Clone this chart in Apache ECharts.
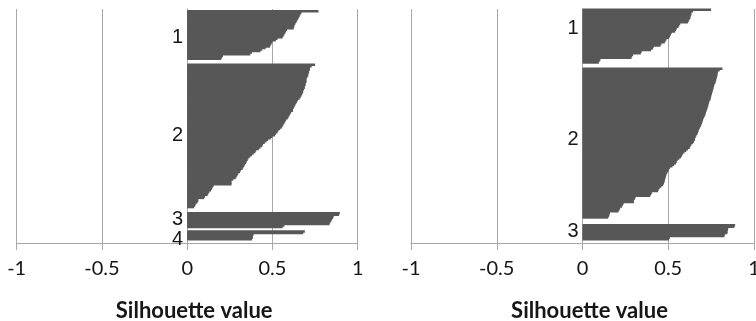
<!DOCTYPE html>
<html>
<head>
<meta charset="utf-8">
<script src="https://cdn.jsdelivr.net/npm/echarts@6/dist/echarts.min.js"></script>
<style>
  html, body { margin: 0; padding: 0; background: #fff; }
  #chart { width: 756px; height: 321px; }
</style>
</head>
<body>
<div id="chart"></div>
<script>
// Silhouette widths per observation, sorted high to low inside each cluster.

// k = 4 solution
const k4Cluster1 = [0.77, 0.67, 0.665, 0.66, 0.655, 0.65, 0.645, 0.64, 0.635, 0.63,
  0.628, 0.625, 0.585, 0.58, 0.575, 0.57, 0.565, 0.56, 0.53, 0.52,
  0.50, 0.495, 0.49, 0.485, 0.46, 0.44, 0.43, 0.38, 0.37, 0.21,
  0.205, 0.20];
const k4Cluster2 = [0.75, 0.73, 0.72, 0.72, 0.715, 0.715, 0.71, 0.71, 0.705, 0.70,
  0.70, 0.70, 0.695, 0.695, 0.69, 0.69, 0.685, 0.68, 0.68, 0.675,
  0.67, 0.665, 0.66, 0.65, 0.645, 0.64, 0.635, 0.63, 0.625, 0.62,
  0.62, 0.61, 0.605, 0.60, 0.595, 0.59, 0.58, 0.575, 0.57, 0.565,
  0.56, 0.555, 0.545, 0.535, 0.53, 0.52, 0.515, 0.50, 0.49, 0.475,
  0.465, 0.455, 0.445, 0.44, 0.43, 0.42, 0.405, 0.40, 0.39, 0.38,
  0.37, 0.36, 0.355, 0.35, 0.345, 0.34, 0.335, 0.33, 0.325, 0.315,
  0.31, 0.30, 0.295, 0.29, 0.285, 0.27, 0.26, 0.26, 0.26, 0.155,
  0.15, 0.145, 0.14, 0.13, 0.125, 0.12, 0.105, 0.10, 0.065, 0.065,
  0.06, 0.05, 0.047, 0.04];
const k4Cluster3 = [0.895, 0.89, 0.86, 0.855, 0.85, 0.845, 0.84, 0.835, 0.57, 0.56];
const k4Cluster4 = [0.69, 0.68, 0.39, 0.385, 0.385, 0.38];
const k4Labels = ['1', '2', '3', '4'];

// k = 3 solution
const k3Cluster1 = [0.75, 0.645, 0.635, 0.635, 0.63, 0.63, 0.625, 0.62, 0.615, 0.57,
  0.565, 0.56, 0.55, 0.545, 0.54, 0.52, 0.515, 0.51, 0.505, 0.49,
  0.485, 0.48, 0.46, 0.455, 0.415, 0.41, 0.40, 0.345, 0.34, 0.295,
  0.29, 0.285, 0.105, 0.10, 0.095];
const k3Cluster2 = [0.816, 0.80, 0.79, 0.788, 0.787, 0.785, 0.782, 0.78, 0.778, 0.775,
  0.77, 0.767, 0.765, 0.763, 0.76, 0.757, 0.755, 0.752, 0.75, 0.748,
  0.745, 0.74, 0.737, 0.735, 0.733, 0.73, 0.727, 0.724, 0.72, 0.718,
  0.715, 0.71, 0.706, 0.703, 0.70, 0.697, 0.693, 0.69, 0.685, 0.68,
  0.677, 0.674, 0.67, 0.665, 0.66, 0.657, 0.655, 0.65, 0.645, 0.635,
  0.63, 0.625, 0.615, 0.605, 0.595, 0.585, 0.58, 0.575, 0.565, 0.555,
  0.55, 0.545, 0.535, 0.525, 0.51, 0.505, 0.50, 0.495, 0.49, 0.488,
  0.485, 0.482, 0.48, 0.478, 0.475, 0.47, 0.46, 0.45, 0.445, 0.44,
  0.405, 0.40, 0.395, 0.31, 0.305, 0.30, 0.30, 0.24, 0.235, 0.23,
  0.22, 0.215, 0.21, 0.16, 0.158, 0.155, 0.15];
const k3Cluster3 = [0.89, 0.885, 0.85, 0.848, 0.846, 0.845, 0.83, 0.828, 0.51, 0.505];
const k3Labels = ['1', '2', '3'];

const xMin = -1, xMax = 1, xStep = 0.5;
const axisTitle = 'Silhouette value';

// ---- layout & style ----
const GRAY = '#a8a8a8';
const BAR = '#575757';
const TEXT = '#161616';
const GRID_TOP = 9, GRID_H = 234;

const panels = [
  { left: 16.7, width: 341, clusters: [k4Cluster1, k4Cluster2, k4Cluster3, k4Cluster4],
    labels: k4Labels, padTop: 1, gaps: [3, 3, 2], padBottom: 2, labelShift: [1, -1, -1, 2] },
  { left: 411, width: 343, clusters: [k3Cluster1, k3Cluster2, k3Cluster3],
    labels: k3Labels, padTop: 0, gaps: [3, 4], padBottom: 2, labelShift: [-5, -2, -1] }
];

// Lay clusters out as consecutive rows of a category axis, with empty rows between them.
function buildRows(p) {
  const values = [];
  const labelAt = {};
  for (let i = 0; i < p.padTop; i++) values.push(null);
  p.clusters.forEach((c, ci) => {
    if (ci > 0) for (let g = 0; g < p.gaps[ci - 1]; g++) values.push(null);
    const start = values.length;
    c.forEach(v => values.push(v));
    labelAt[start + Math.floor(c.length / 2) + p.labelShift[ci]] = p.labels[ci];
  });
  for (let i = 0; i < p.padBottom; i++) values.push(null);
  return { cats: values.map((_, i) => 'obs' + i), values, labelAt };
}

const rows = panels.map(buildRows);

// The cluster axis sits on silhouette value 0, i.e. this far in from the grid's left edge.
const zeroOffset = p => -p.width * (0 - xMin) / (xMax - xMin);

// One horizontal bar per observation; rows overlap by a pixel so that
// neighbouring bars of a cluster merge into one solid silhouette.
function renderSilhouetteBar(params, api) {
  const v = api.value(0);
  const row = api.value(1);
  const from = api.coord([0, row]);
  const to = api.coord([v, row]);
  const bandH = api.size([0, 1])[1];
  return {
    type: 'rect',
    shape: { x: from[0], y: from[1] - bandH / 2 - 0.5, width: to[0] - from[0], height: bandH + 1 },
    style: { fill: BAR }
  };
}

const chart = echarts.init(document.getElementById('chart'), null, { renderer: 'canvas' });

chart.setOption({
  animation: false,
  backgroundColor: '#fff',
  grid: panels.map(p => ({
    left: p.left, top: GRID_TOP, width: p.width, height: GRID_H,
    containLabel: false, outerBoundsMode: 'none'
  })),
  xAxis: panels.map((p, i) => ({
    type: 'value', gridIndex: i, min: xMin, max: xMax, interval: xStep,
    axisLine: { show: true, onZero: false, lineStyle: { color: GRAY, width: 1 } },
    axisTick: { show: true, length: 7, inside: false, lineStyle: { color: GRAY, width: 1 } },
    splitLine: { show: true, lineStyle: { color: GRAY, width: 1 } },
    axisLabel: { show: true, fontFamily: 'Lato', fontSize: 20, color: TEXT, margin: 16,
      showMinLabel: true, showMaxLabel: true },
    name: axisTitle, nameLocation: 'middle', nameGap: 57,
    nameTextStyle: { fontFamily: 'Lato', fontWeight: 'bold', fontSize: 22, color: TEXT,
      padding: [0, 0, 0, 14] }
  })),
  yAxis: panels.map((p, i) => ({
    type: 'category', gridIndex: i, inverse: true, data: rows[i].cats,
    position: 'left', offset: zeroOffset(p),
    axisLine: { show: true, onZero: false, lineStyle: { color: GRAY, width: 1 } },
    axisTick: { show: false },
    splitLine: { show: false },
    axisLabel: { interval: 0, margin: 4, fontFamily: 'Liberation Sans', fontSize: 20, color: TEXT,
      formatter: (v, idx) => rows[i].labelAt[idx] || '' }
  })),
  series: panels.map((p, i) => ({
    type: 'custom', xAxisIndex: i, yAxisIndex: i, silent: true,
    data: rows[i].values
      .map((v, idx) => [v, idx])
      .filter(d => d[0] != null),
    encode: { x: 0, y: 1 },
    renderItem: renderSilhouetteBar
  }))
});
</script>
</body>
</html>
